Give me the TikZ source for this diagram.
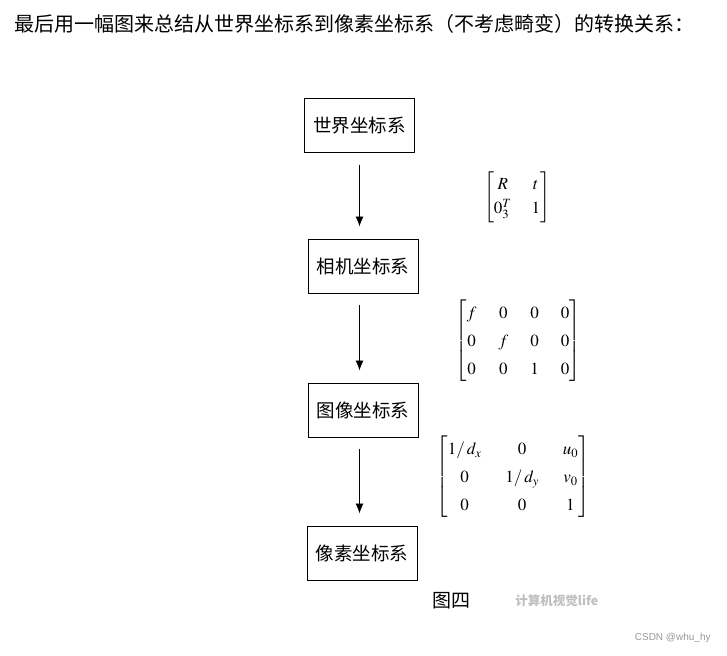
\documentclass[tikz,border=0pt]{standalone}
\usepackage{amsmath}
\usepackage{mathptmx}
\usepackage{fontspec}
\newfontfamily\cjk{Noto Sans CJK SC}
\newfontfamily\latin{Liberation Sans}
\usetikzlibrary{arrows.meta,positioning}

\begin{document}
\begin{tikzpicture}[x=1pt, y=-1pt, thick]
	\useasboundingbox[fill=white] (0,0) rectangle (727,655);

		\tikzstyle{frame}=[rectangle, draw, line width=1pt, text=black, minimum width=110pt, minimum height=54pt, font=\cjk\fontsize{18.5}{20}\selectfont]
		\tikzstyle{mat}=[inner sep=0pt, font=\fontsize{17}{20}\selectfont]
		\tikzstyle{link}=[-{Latex[length=10pt, width=8pt]}, black, line width=0.9pt, shorten <=11pt, shorten >=12pt]

		% heading
		\node[anchor=west, inner sep=0pt, font=\cjk\fontsize{20}{22}\selectfont] (title) at (14,24) {最后用一幅图来总结从世界坐标系到像素坐标系（不考虑畸变）的转换关系：};

		% coordinate systems
		\node[frame] (world)  at (359.5,126) {世界坐标系};
		\node[frame] (camera) at (363,266)   {相机坐标系};
		\node[frame] (image)  at (363,410)   {图像坐标系};
		\node[frame] (pixel)  at (362,553)   {像素坐标系};

		% transform links
		\draw[link] (world.south)  -- (world.south |- camera.north);
		\draw[link] (camera.south-|world.south) -- (world.south |- image.north);
		\draw[link] (image.south-|world.south)  -- (world.south |- pixel.north);

		% matrices
		\node[mat] (extr) at (517,197) {\renewcommand\arraystretch{1.2}\setlength\arraycolsep{10pt}$\begin{bmatrix} R & t\\ 0_3^T & 1\end{bmatrix}$};
		\node[mat] (proj) at (518,341) {\renewcommand\arraystretch{1.4}\setlength\arraycolsep{11pt}$\begin{bmatrix} f & 0 & 0 & 0\\ 0 & f & 0 & 0\\ 0 & 0 & 1 & 0\end{bmatrix}$};
		\node[mat] (intr) at (513,477) {\renewcommand\arraystretch{1.4}\setlength\arraycolsep{12pt}$\begin{bmatrix} 1/\,d_x & 0 & u_0\\ 0 & 1/\,d_y & v_0\\ 0 & 0 & 1\end{bmatrix}$};

		% caption
		\node[inner sep=0pt, font=\cjk\fontsize{19}{20}\selectfont] (cap) at (451,601) {图四};
		\node[anchor=west, inner sep=0pt, text=gray!50, font=\cjk\bfseries\fontsize{12.5}{14}\selectfont] (mark) at (515,601) {计算机视觉life};
		\node[anchor=east, inner sep=0pt, text=gray!80, font=\latin\fontsize{10}{12}\selectfont] (csdn) at (711,638) {CSDN @whu\_hy};

		\end{tikzpicture}
\end{document}
